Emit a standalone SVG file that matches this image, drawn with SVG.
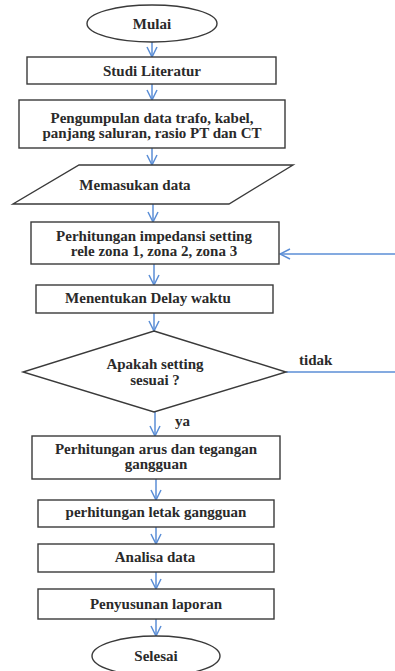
<svg xmlns="http://www.w3.org/2000/svg" width="395" height="671" viewBox="0 0 395 671">
<style>
.box{fill:#fff;stroke:#3a3a3a;stroke-width:1.4}
.t{font-family:"Liberation Serif","Times New Roman",serif;font-size:15px;font-weight:bold;fill:#2a2a2a;text-anchor:middle}
.l{font-family:"Liberation Serif","Times New Roman",serif;font-size:15px;font-weight:bold;fill:#2a2a2a}
.c{fill:none;stroke:#5b8ed6;stroke-width:1.5}
</style>
<defs>
<marker id="ah" viewBox="0 0 12 12" refX="11" refY="6" markerWidth="12" markerHeight="12" markerUnits="userSpaceOnUse" orient="auto">
<path d="M1,1 L11,6 L1,11" fill="none" stroke="#5b8ed6" stroke-width="1.5"/>
</marker>
</defs>
<rect width="395" height="671" fill="#fff"/>
<g id="connectors">
<line class="c" x1="152" y1="42" x2="152" y2="57" marker-end="url(#ah)"/>
<line class="c" x1="152" y1="84" x2="152" y2="100" marker-end="url(#ah)"/>
<line class="c" x1="152" y1="148" x2="152" y2="165" marker-end="url(#ah)"/>
<line class="c" x1="153" y1="204" x2="153" y2="222" marker-end="url(#ah)"/>
<line class="c" x1="154" y1="264" x2="154" y2="285" marker-end="url(#ah)"/>
<line class="c" x1="154" y1="313" x2="154" y2="331" marker-end="url(#ah)"/>
<line class="c" x1="155" y1="412" x2="155" y2="436" marker-end="url(#ah)"/>
<line class="c" x1="156" y1="479" x2="156" y2="500" marker-end="url(#ah)"/>
<line class="c" x1="156" y1="527" x2="156" y2="544" marker-end="url(#ah)"/>
<line class="c" x1="156" y1="572" x2="156" y2="589" marker-end="url(#ah)"/>
<line class="c" x1="156" y1="619" x2="156" y2="636" marker-end="url(#ah)"/>
<line class="c" x1="286" y1="372" x2="395" y2="372"/>
<line class="c" x1="395" y1="254" x2="280" y2="254" marker-end="url(#ah)"/>
<text class="l" x="299" y="365">tidak</text>
<text class="l" x="175" y="426">ya</text>
</g>
<g id="mulai">
<ellipse class="box" cx="152" cy="23.5" rx="65" ry="18.5"/>
<text class="t" x="152" y="28.5">Mulai</text>
</g>
<g id="studi">
<rect class="box" x="27" y="57" width="249" height="27"/>
<text class="t" x="152" y="76">Studi Literatur</text>
</g>
<g id="pengumpulan">
<rect class="box" x="19" y="100" width="266" height="48"/>
<text class="t" x="152" y="123">Pengumpulan data trafo, kabel,</text>
<text class="t" x="152" y="138">panjang saluran, rasio PT dan CT</text>
</g>
<g id="memasukan">
<polygon class="box" points="79,165 293,165 229,204 13,204"/>
<text class="t" x="135" y="190">Memasukan data</text>
</g>
<g id="impedansi">
<rect class="box" x="31" y="222" width="248" height="42"/>
<text class="t" x="154" y="241">Perhitungan impedansi setting</text>
<text class="t" x="154" y="256">rele zona 1, zona 2, zona 3</text>
</g>
<g id="delay">
<rect class="box" x="36" y="285" width="237" height="28"/>
<text class="t" x="148" y="303">Menentukan Delay waktu</text>
</g>
<g id="keputusan">
<polygon class="box" points="154,331 286,372 154,412 23,372"/>
<text class="t" x="155" y="369">Apakah setting</text>
<text class="t" x="155" y="385">sesuai ?</text>
</g>
<g id="arus">
<rect class="box" x="32" y="436" width="248" height="43"/>
<text class="t" x="156" y="454">Perhitungan arus dan tegangan</text>
<text class="t" x="156" y="469">gangguan</text>
</g>
<g id="letak">
<rect class="box" x="38" y="500" width="236" height="27"/>
<text class="t" x="156" y="517">perhitungan letak gangguan</text>
</g>
<g id="analisa">
<rect class="box" x="38" y="544" width="236" height="28"/>
<text class="t" x="155" y="562">Analisa data</text>
</g>
<g id="penyusunan">
<rect class="box" x="38" y="589" width="236" height="30"/>
<text class="t" x="156" y="609">Penyusunan laporan</text>
</g>
<g id="selesai">
<ellipse class="box" cx="156" cy="656" rx="64" ry="20"/>
<text class="t" x="156" y="661">Selesai</text>
</g>
</svg>
